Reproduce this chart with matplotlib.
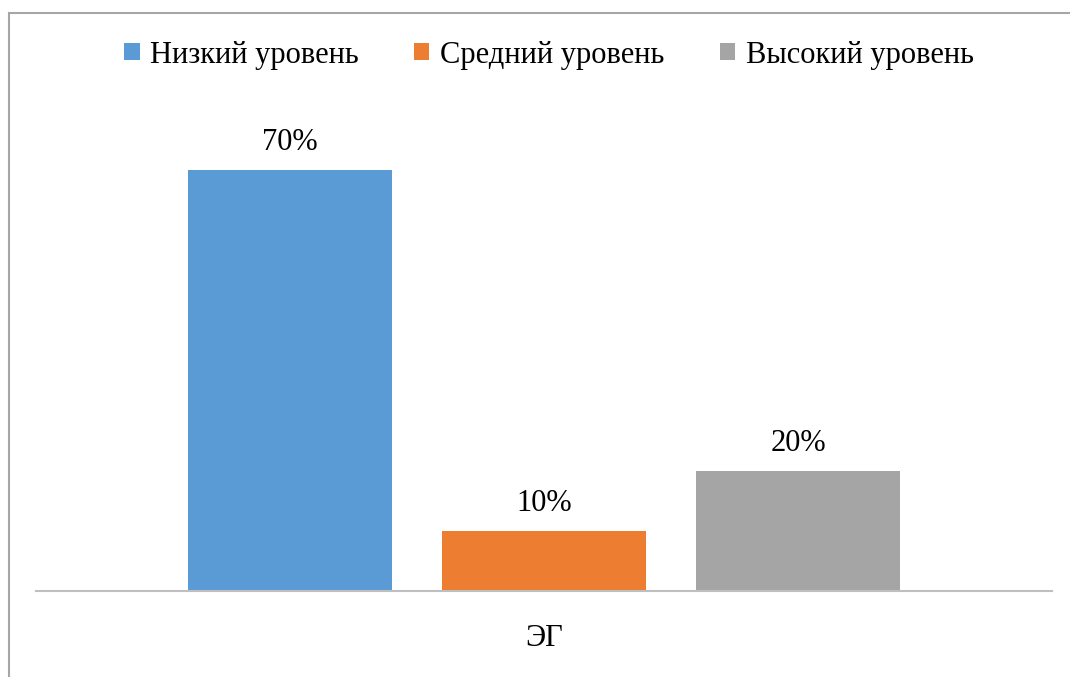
import matplotlib.pyplot as plt
from matplotlib.patches import Rectangle

levels = ["Низкий уровень", "Средний уровень", "Высокий уровень"]
values = [70, 10, 20]
colors = ["#5B9BD5", "#ED7D31", "#A5A5A5"]
group = "ЭГ"

plt.rcParams['font.family'] = ['Liberation Serif', 'DejaVu Serif']

fig = plt.figure(figsize=(10.7, 6.77), dpi=100)

# outer chart frame (only top/left visible in the reference)
fig.patches.append(Rectangle((9 / 1070, -0.1), 1.2, 1 - 13 / 677 + 0.1,
                             transform=fig.transFigure, fill=False,
                             edgecolor="#a6a6a6", linewidth=1.5))

ax = fig.add_axes([36 / 1070, 86 / 677, 1016 / 1070, (591 - 110) / 677])
positions = [0, 1, 2]
bars = ax.bar(positions, values, width=0.8, color=colors, label=levels)
for b, v in zip(bars, values):
    ax.text(b.get_x() + b.get_width() / 2, v + 3.3, f"{v}%",
            ha="center", va="baseline", fontsize=22)

ax.set_xlim(-1.0, 3.0)
ax.set_ylim(0, 80)
for s in ["top", "right", "left"]:
    ax.spines[s].set_visible(False)
ax.spines["bottom"].set_color("#bfbfbf")
ax.spines["bottom"].set_linewidth(1.5)
ax.set_yticks([])
ax.set_xticks([1])
ax.set_xticklabels([group], fontsize=22)
ax.tick_params(axis="x", length=0, pad=24)

fig.legend(bars, levels, loc="center", bbox_to_anchor=(549 / 1070, 1 - 55 / 677),
           ncol=3, frameon=False, fontsize=22, handlelength=0.5, handleheight=0.5,
           handletextpad=0.35, columnspacing=1.8)

fig.savefig("out.png", dpi=100, facecolor="white")
